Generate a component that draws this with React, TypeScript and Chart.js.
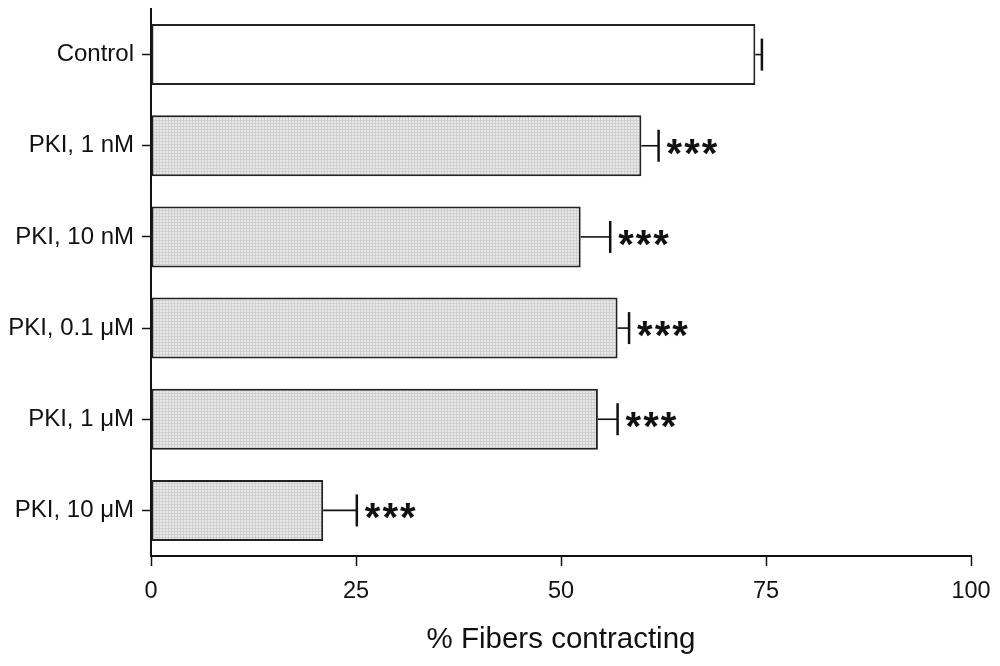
import React, { useEffect, useRef } from "react";
import { Chart, registerables } from "chart.js";

Chart.register(...registerables);

const categories = ["Control", "PKI, 1 nM", "PKI, 10 nM", "PKI, 0.1 μM", "PKI, 1 μM", "PKI, 10 μM"];
const values = [73.7, 59.8, 52.4, 56.9, 54.5, 21.0];
const errors = [0.8, 2.1, 3.6, 1.4, 2.4, 4.1];
const marks = ["", "***", "***", "***", "***", "***"];
const xTicks = [0, 25, 50, 75, 100];
const xTitle = "% Fibers contracting";

const FONT = '"Liberation Sans", Arial, sans-serif';
const INK = "#111111";

function makePattern(ctx: CanvasRenderingContext2D) {
  const c = document.createElement("canvas");
  c.width = 3;
  c.height = 3;
  const p = c.getContext("2d")!;
  p.fillStyle = "#e8e8e8";
  p.fillRect(0, 0, 3, 3);
  p.fillStyle = "#d0d0d0";
  p.fillRect(0, 0, 3, 1);
  p.fillRect(0, 0, 1, 3);
  return ctx.createPattern(c, "repeat");
}

const errorBarPlugin = {
  id: "errorBars",
  afterDatasetsDraw(chart: any) {
    const { ctx } = chart;
    const xs = chart.scales.x;
    const meta = chart.getDatasetMeta(0);
    ctx.save();
    meta.data.forEach((bar: any, i: number) => {
      const x0 = xs.getPixelForValue(values[i]);
      const x1 = xs.getPixelForValue(values[i] + errors[i]);
      const y = bar.y;
      ctx.strokeStyle = INK;
      ctx.lineWidth = 1.6;
      ctx.beginPath();
      ctx.moveTo(x0, y);
      ctx.lineTo(x1, y);
      ctx.stroke();
      ctx.lineWidth = 2.5;
      ctx.beginPath();
      ctx.moveTo(x1, y - 16);
      ctx.lineTo(x1, y + 16);
      ctx.stroke();
      if (marks[i]) {
        ctx.font = `bold 40px ${FONT}`;
        (ctx as any).letterSpacing = "2px";
        ctx.fillStyle = INK;
        ctx.textAlign = "left";
        ctx.textBaseline = "alphabetic";
        const m = ctx.measureText(marks[i]);
        const asc = m.actualBoundingBoxAscent;
        const desc = m.actualBoundingBoxDescent;
        const baseline = y + 1 + (asc - desc) / 2;
        const drawX = x1 + 8 + m.actualBoundingBoxLeft;
        ctx.fillText(marks[i], drawX, baseline);
        (ctx as any).letterSpacing = "0px";
      }
    });
    ctx.restore();
  },
};

export default function App() {
  const ref = useRef<HTMLCanvasElement>(null);

  useEffect(() => {
    const canvas = ref.current!;
    const ctx = canvas.getContext("2d")!;
    const pattern = makePattern(ctx);
    const fills = categories.map((_, i) => (i === 0 ? "#ffffff" : pattern));

    const chart = new Chart(ctx, {
      type: "bar",
      data: {
        labels: categories,
        datasets: [
          {
            data: values,
            backgroundColor: fills as any,
            borderColor: "#222222",
            borderWidth: 2,
            borderSkipped: false,
            barPercentage: 0.67,
            categoryPercentage: 1,
          },
        ],
      },
      options: {
        indexAxis: "y",
        responsive: false,
        animation: false,
        layout: { padding: { top: 9, right: 29, left: 0, bottom: 0 } },
        plugins: {
          legend: { display: false },
          tooltip: { enabled: false },
        },
        scales: {
          x: {
            type: "linear",
            min: 0,
            max: 100,
            afterBuildTicks: (s: any) => {
              s.ticks = xTicks.map((v) => ({ value: v }));
            },
            afterFit: (s: any) => {
              s.height = 110;
              s.paddingLeft = 0;
              s.paddingRight = 0;
            },
            ticks: {
              color: INK,
              font: { family: FONT, size: 23.5 },
              padding: 11,
              maxRotation: 0,
            },
            grid: {
              drawOnChartArea: false,
              drawTicks: true,
              tickLength: 10,
              tickColor: INK,
              tickWidth: 1.5,
            },
            border: { display: true, color: INK, width: 2 },
            title: {
              display: true,
              text: xTitle,
              color: INK,
              font: { family: FONT, size: 29.5 },
              padding: { top: 0, bottom: 8 },
            },
          },
          y: {
            type: "category",
            offset: true,
            afterFit: (s: any) => {
              s.width = 151;
              s.paddingTop = 0;
              s.paddingBottom = 0;
            },
            ticks: {
              color: INK,
              font: { family: FONT, size: 24 },
              padding: 8,
            },
            grid: {
              offset: false,
              drawOnChartArea: false,
              drawTicks: true,
              tickLength: 9,
              tickColor: INK,
              tickWidth: 1.5,
            },
            border: { display: true, color: INK, width: 2 },
          },
        },
      },
      plugins: [errorBarPlugin],
    });
    return () => chart.destroy();
  }, []);

  return (
    <div style={{ position: "absolute", left: 0, top: 0, width: 1000, height: 666, background: "#ffffff" }}>
      <canvas ref={ref} width={1000} height={666} style={{ display: "block" }} />
    </div>
  );
}
